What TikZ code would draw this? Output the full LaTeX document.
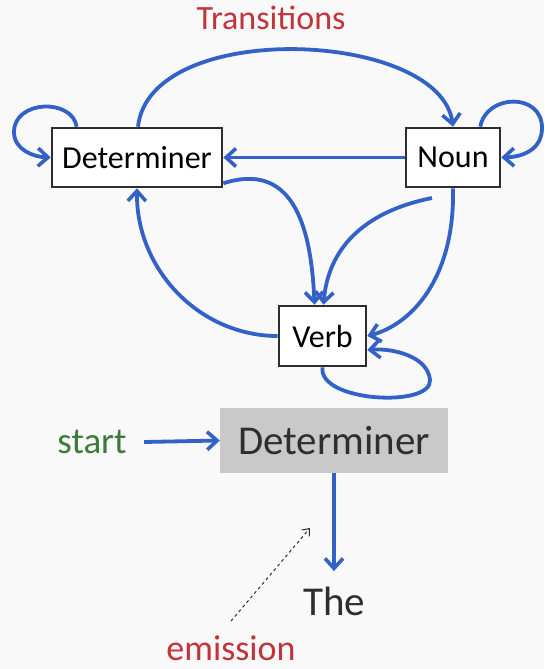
\documentclass[tikz,border=0pt]{standalone}
\usepackage{fontspec}
\setmainfont{Carlito}
\usetikzlibrary{positioning,arrows.meta}
\definecolor{link}  {HTML}{3262C8}
\definecolor{frame} {HTML}{2E2E2E}
\definecolor{title} {HTML}{C2343A}
\definecolor{go}    {HTML}{3C7A3A}
\definecolor{shade} {HTML}{C9C9C9}
\definecolor{paper} {HTML}{F9F9F9}

\begin{document}
\begin{tikzpicture}[x=1pt,y=-1pt,
  state/.style={draw=frame,line width=2.6pt,fill=white,inner sep=0pt,
                minimum height=59pt,font=\fontsize{32}{36}\selectfont},
  trans/.style={link,line width=3.8pt,-{Straight Barb[length=10pt,width=18pt,line width=3.6pt]}},
  big/.style={font=\fontsize{41}{46}\selectfont,text=frame}]
  \fill[paper] (0,0) rectangle (544,669);
  \useasboundingbox (0,0) rectangle (544,669);
  % hidden states
  \node[state,minimum width=170pt] (det)  at (137,157.5) {Determiner};
  \node[state,minimum width=94pt]  (noun) at (453,157.5) {Noun};
  \node[state,minimum width=87pt,minimum height=60pt] (verb) at (322.5,336) {Verb};
  \node[font=\fontsize{34}{38}\selectfont,text=title] (ttl) at (271,18) {Transitions};
  % transitions
  \draw[trans] ([xshift=26pt]det.north west) .. controls (72,98) and (14,100)
        .. (14,132) .. controls (14,150) and (34,157) .. (det.west);
  \draw[trans] ([xshift=1pt]det.north) .. controls (150,18) and (440,30) .. (noun.north);
  \draw[trans] ([xshift=-21pt]noun.north east) .. controls (486,94) and (542,92)
        .. (542,128) .. controls (542,150) and (522,157) .. (noun.east);
  \draw[trans] (noun.west) -- (det.east);
  \draw[trans] ([yshift=5pt]det.south east) .. controls (290,162) and (311,220) .. ([xshift=-8pt]verb.north);
  \coordinate (nb) at (432,198);
  \draw[trans] (nb) .. controls (362,212) and (328,250) .. ([xshift=1pt]verb.north);
  \draw[trans] (noun.south) .. controls (455,280) and (410,325) .. (verb.east);
  \draw[trans] (verb.west) .. controls (200,336) and (136,270) .. (det.south);
  \draw[trans] (verb.south) .. controls (318,402) and (432,408) .. (430,380)
        .. controls (428,356) and (392,348) .. ([yshift=-14pt]verb.east);
  % one step of the chain
  \node[fill=shade,minimum width=228pt,minimum height=65pt,inner sep=0pt,big] (gdet) at (334,440.5) {Determiner};
  \node[font=\fontsize{37}{42}\selectfont,text=go] (start) at (92,442) {start};
  \node[big] (word) at (334,601) {The};
  \node[font=\fontsize{36}{40}\selectfont,text=title,anchor=base,inner sep=0pt] (emis) at (231,660) {emission};
  \draw[trans] (start.east) ++(14pt,0) -- (gdet.west);
  \draw[trans] (gdet.south) -- ([yshift=12pt]word.north);
  \coordinate (etip) at (310,528);
  \draw[frame,line width=1pt,dashed,-{Straight Barb[length=6pt,width=10pt]}]
       ([yshift=14pt]emis.north) -- (etip);
\end{tikzpicture}
\end{document}
